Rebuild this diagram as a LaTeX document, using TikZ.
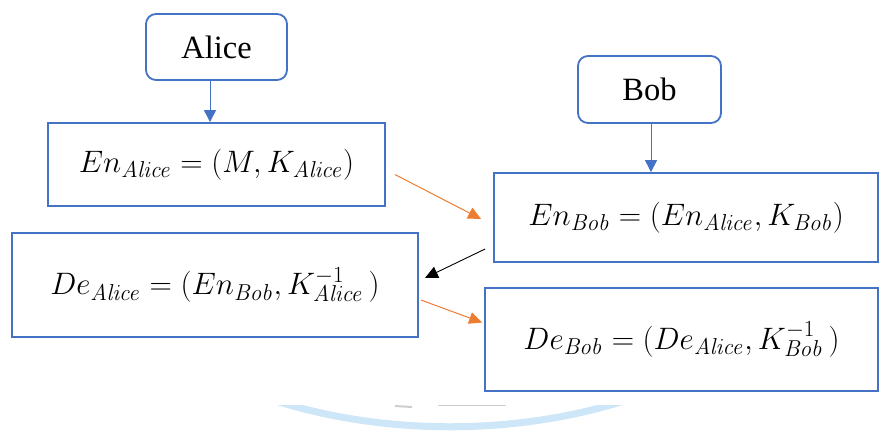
\documentclass[tikz,border=0pt]{standalone}
\usepackage{fix-cm}
\usepackage[no-math]{fontspec}
\setmainfont{Liberation Serif}
\DeclareMathSizes{31}{31}{23}{18}
\usetikzlibrary{arrows.meta}
\definecolor{boxblue}{RGB}{68,114,196}
\definecolor{arrorange}{RGB}{237,125,49}
\definecolor{arcblue}{RGB}{205,230,248}
\definecolor{smudge}{RGB}{205,205,205}
\tikzset{
  actor/.style={draw=boxblue, line width=1.8pt, rounded corners=10pt, fill=white,
    font=\fontsize{32.5}{38}\selectfont, inner sep=0pt},
  formula/.style={draw=boxblue, line width=1.8pt, fill=white,
    font=\fontsize{31}{36}\selectfont, inner sep=0pt},
  bluearrow/.style={draw=boxblue, line width=1pt, -{Triangle[length=12pt,width=12pt]}},
  orangearrow/.style={draw=arrorange, line width=1pt, -{Triangle[length=13pt,width=12pt]}},
  blackarrow/.style={draw=black, line width=0.9pt, -{Triangle[length=13pt,width=12pt]}}
}
\begin{document}
\begin{tikzpicture}[x=1pt,y=-1pt]
\useasboundingbox (0,0) rectangle (880,432);
% faint arc at bottom
\begin{scope}
  \clip (0,405) rectangle (880,440);
  \draw[arcblue, line width=7pt] (245,390) .. controls (370,439) and (530,439) .. (655,390);
\end{scope}
\draw[smudge, line width=2pt] (395,406) -- (412,407);
\draw[smudge, line width=1.5pt] (438,405.5) -- (506,405.5);

\node[actor, minimum width=141pt, minimum height=66pt] (alice) at (216.5,47) {Alice};
\node[actor, minimum width=143pt, minimum height=67pt] (bob) at (649.5,89.5) {Bob};

\node[formula, minimum width=337pt, minimum height=83pt] (enA) at (216.5,164.5)
  {\raisebox{4pt}{$En_{\mathit{Alice}}=(M,K_{\mathit{Alice}})$}};
\node[formula, minimum width=406pt, minimum height=104pt] (deA) at (215,285)
  {\raisebox{5pt}{$De_{\mathit{Alice}}=(En_{\mathit{Bob}},K^{-1}_{\mathit{Alice}}\,)$}};
\node[formula, minimum width=384pt, minimum height=89pt] (enB) at (686,217.5)
  {\raisebox{6pt}{$En_{\mathit{Bob}}=(En_{\mathit{Alice}},K_{\mathit{Bob}})$}};
\node[formula, minimum width=393pt, minimum height=103pt] (deB) at (681.5,339.5)
  {\raisebox{7pt}{$De_{\mathit{Bob}}=(De_{\mathit{Alice}},K^{-1}_{\mathit{Bob}}\,)$}};

\draw[bluearrow] ([xshift=-6.5pt]alice.south) -- ([xshift=-6.5pt]alice.south |- enA.north);
\draw[bluearrow] ([xshift=1.5pt]bob.south) -- ([xshift=1.5pt]bob.south |- enB.north);
\draw[orangearrow] ([xshift=9pt,yshift=-10pt]enA.east) -- ([xshift=-12pt,yshift=-1.5pt]enB.west);
\draw[blackarrow] ([xshift=-8pt,yshift=-31.5pt]enB.west) -- ([xshift=6pt,yshift=7pt]deA.east);
\draw[orangearrow] ([xshift=2pt,yshift=-15pt]deA.east) -- ([xshift=-2pt,yshift=17pt]deB.west);
\end{tikzpicture}
\end{document}
